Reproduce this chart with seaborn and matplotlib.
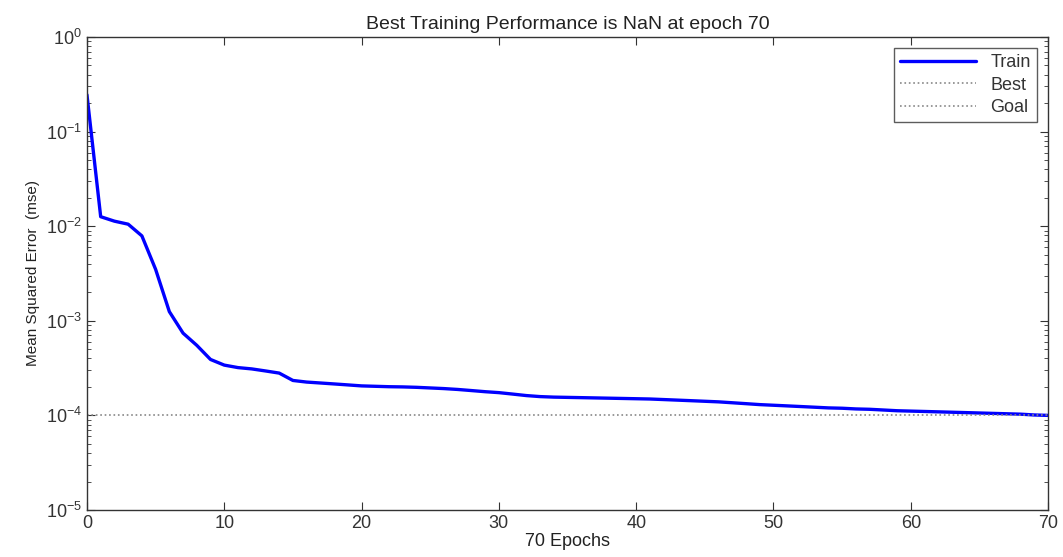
import numpy as np
import pandas as pd
import matplotlib
matplotlib.use("Agg")
import matplotlib.pyplot as plt
import seaborn as sns
from matplotlib.ticker import LogLocator, FixedLocator

# training curve, one value per epoch
epochs = list(range(0, 71))
train_mse = [
    0.245, 0.0126, 0.0113, 0.0105, 0.0079, 0.0035, 0.00125, 0.00074, 0.00055, 0.00039,
    0.00034, 0.00032, 0.00031, 0.000295, 0.00028, 0.000234, 0.000225, 0.00022, 0.000215, 0.00021,
    0.000205, 0.000203, 0.000201, 0.0002, 0.000198, 0.000195, 0.000192, 0.000188, 0.000183, 0.000178,
    0.000174, 0.000168, 0.000162, 0.000158, 0.000156, 0.000155, 0.000154, 0.000153, 0.000152, 0.000151,
    0.00015, 0.000149, 0.000147, 0.000145, 0.000143, 0.000141, 0.000139, 0.000136, 0.000133, 0.00013,
    0.000128, 0.000126, 0.000124, 0.000122, 0.00012, 0.000119, 0.000117, 0.000116, 0.000114, 0.000112,
    0.000111, 0.00011, 0.000109, 0.000108, 0.000107, 0.000106, 0.000105, 0.000104, 0.000103, 0.000101,
    0.0001,
]
goal = 1e-4
xticks = [0, 10, 20, 30, 40, 50, 60, 70]

df = pd.DataFrame({"Epoch": epochs, "MSE": train_mse})

sns.set_style("ticks")
plt.rcParams["font.family"] = ["Liberation Sans", "DejaVu Sans"]

fig = plt.figure(figsize=(10.63, 5.57), dpi=100)
ax = fig.add_axes([0.0818, 0.0844, 0.9042, 0.8492])

sns.lineplot(data=df, x="Epoch", y="MSE", ax=ax, color="#0000ff", linewidth=2.4, label="Train")
# best performance is NaN, so nothing is drawn for it
ax.plot([], [], color="#888888", linestyle=":", linewidth=1.2, label="Best")
ax.axhline(goal, color="#888888", linestyle=":", linewidth=1.2, label="Goal")

ax.set_yscale("log")
ax.set_xlim(0, 70)
ax.set_ylim(1e-5, 1e0)
ax.xaxis.set_major_locator(FixedLocator(xticks))
ax.yaxis.set_major_locator(LogLocator(base=10, numticks=10))
ax.yaxis.set_minor_locator(LogLocator(base=10, subs=np.arange(2, 10), numticks=10))

ax.tick_params(which="both", direction="in", top=True, right=True, labelsize=13, colors="#333333")
ax.tick_params(which="major", length=6)
ax.tick_params(which="minor", length=3)
for s in ax.spines.values():
    s.set_color("#333333")
    s.set_linewidth(1.0)

ax.set_title("Best Training Performance is NaN at epoch 70", fontsize=14, color="#222222", pad=6)
ax.set_xlabel("70 Epochs", fontsize=13, color="#222222", labelpad=1)
ax.set_ylabel("Mean Squared Error  (mse)", fontsize=11, color="#222222", labelpad=4)

leg = ax.legend(loc="upper right", fontsize=13, frameon=True, fancybox=False,
                handlelength=4.2, borderpad=0.35, labelspacing=0.3, borderaxespad=0.6)
leg.get_frame().set_edgecolor("#333333")
leg.get_frame().set_linewidth(1.0)
for t in leg.get_texts():
    t.set_color("#333333")

fig.savefig("out.png", dpi=100)
